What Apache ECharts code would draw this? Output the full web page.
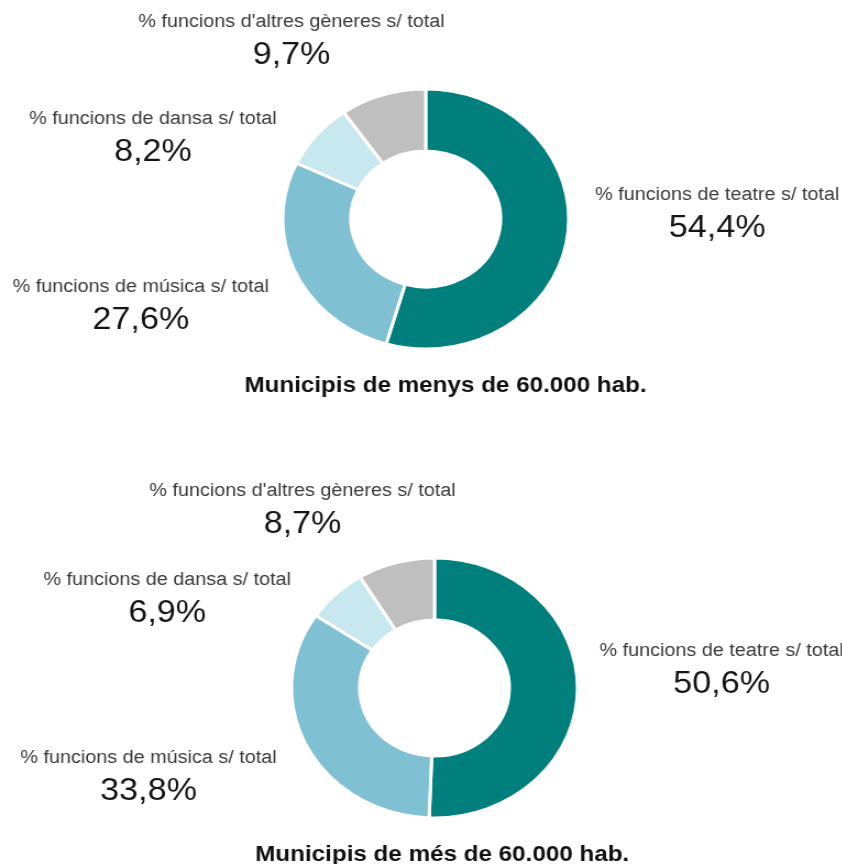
<!DOCTYPE html>
<html>
<head>
<meta charset="utf-8">
<title>Funcions per gènere</title>
<script src="https://cdn.jsdelivr.net/npm/echarts@6/dist/echarts.min.js"></script>
<style>
  html, body { margin: 0; padding: 0; background: #fff; overflow: hidden; }
  /* the source picture is stretched ~10% horizontally */
  #chart { width: 765px; height: 864px; transform: scaleX(1.1); transform-origin: 0 0; }
</style>
</head>
<body>
<div id="chart"></div>
<script>
// categories (clockwise from 12 o'clock)
var categories = [
  "% funcions de teatre s/ total",
  "% funcions de música s/ total",
  "% funcions de dansa s/ total",
  "% funcions d'altres gèneres s/ total"
];
// values, %
var menys60000 = [54.4, 27.6, 8.2, 9.7];
var mes60000 = [50.6, 33.8, 6.9, 8.7];
var titles = ["Municipis de menys de 60.000 hab.", "Municipis de més de 60.000 hab."];

var colors = ["#017f7c", "#7fc1d3", "#c6e8ee", "#bfbfbf"];
var font = "'Liberation Sans', Arial, sans-serif";

// label centres for each slice (name + value block), per chart (unstretched coords)
var labelPos = [
  [[652, 213], [128, 305], [139, 137], [265, 40]],
  [[656, 669], [135, 776], [152, 598], [275, 509]]
];

function toData(values) {
  return categories.map(function (c, i) {
    return { name: c, value: values[i], itemStyle: { color: colors[i] } };
  });
}

function makeSeries(values, center, idx) {
  return {
    type: "pie",
    center: center,
    radius: [68, 130],
    startAngle: 90,
    clockwise: true,
    silent: true,
    avoidLabelOverlap: false,
    itemStyle: { borderColor: "#fff", borderWidth: 3 },
    label: {
      show: true,
      position: "outside",
      formatter: function (p) {
        return "{n|" + p.name + "}\n{v|" + String(p.value).replace(".", ",") + "%}";
      },
      rich: {
        n: { fontFamily: font, fontSize: 18, color: "#3a3a3a", lineHeight: 30, align: "center" },
        v: { fontFamily: font, fontSize: 31, color: "#141414", lineHeight: 36, align: "center" }
      }
    },
    labelLine: { show: false },
    labelLayout: function (p) {
      var pos = labelPos[idx][p.dataIndex];
      return { x: pos[0], y: pos[1], align: "center", verticalAlign: "middle" };
    },
    emphasis: { disabled: true },
    data: toData(values)
  };
}

var chart = echarts.init(document.getElementById("chart"));
chart.setOption({
  animation: false,
  title: [
    {
      text: titles[0], left: 400, top: 370, textAlign: "center",
      textStyle: { fontFamily: font, fontSize: 22, fontWeight: "bold", color: "#111" }
    },
    {
      text: titles[1], left: 397, top: 839, textAlign: "center",
      textStyle: { fontFamily: font, fontSize: 22, fontWeight: "bold", color: "#111" }
    }
  ],
  series: [
    makeSeries(menys60000, [387, 219], 0),
    makeSeries(mes60000, [395, 688], 1)
  ]
});
</script>
</body>
</html>
